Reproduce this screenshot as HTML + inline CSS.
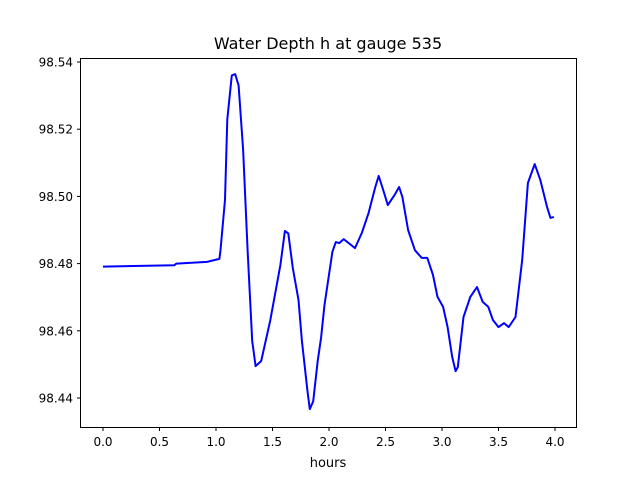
<!DOCTYPE html>
<html><head><meta charset="utf-8"><style>
body{margin:0;background:#fff;}
text{font-family:"DejaVu Sans","Liberation Sans",sans-serif;}
</style></head><body>
<svg id="chart" width="640" height="480" xmlns="http://www.w3.org/2000/svg">
<rect width="640" height="480" fill="#fff"/>
<text x="328" y="49" font-size="16" text-anchor="middle">Water Depth h at gauge 535</text>
<text x="328" y="467" font-size="13" text-anchor="middle">hours</text>
<g id="ticks"></g>
<polyline id="series" fill="none" stroke="#0000ff" stroke-width="2" stroke-linejoin="round"/>
<rect x="80.5" y="58.5" width="496" height="369" fill="none" stroke="#000" stroke-width="1"/>
</svg>
<script>
const hours=[0,0.63,0.65,0.92,1.03,1.04,1.08,1.10,1.14,1.17,1.20,1.24,1.28,1.32,1.35,1.40,1.48,1.57,1.61,1.64,1.68,1.73,1.76,1.81,1.83,1.86,1.90,1.93,1.96,2.03,2.06,2.09,2.13,2.23,2.29,2.35,2.41,2.44,2.48,2.52,2.58,2.62,2.65,2.70,2.76,2.82,2.87,2.92,2.96,3.01,3.05,3.09,3.12,3.14,3.19,3.25,3.31,3.36,3.41,3.45,3.50,3.55,3.59,3.65,3.71,3.76,3.82,3.87,3.93,3.96,3.99];
const depth=[98.4791,98.4795,98.4800,98.4805,98.4814,98.484,98.499,98.523,98.536,98.5364,98.533,98.514,98.484,98.457,98.4495,98.451,98.463,98.4796,98.4897,98.489,98.4787,98.4692,98.457,98.442,98.4367,98.439,98.451,98.458,98.4677,98.4835,98.4864,98.4861,98.4873,98.4846,98.4891,98.4951,98.5028,98.5061,98.5019,98.4974,98.5004,98.5028,98.4998,98.490,98.484,98.4817,98.4817,98.4766,98.4701,98.4671,98.4611,98.4522,98.448,98.4492,98.4641,98.4701,98.473,98.4686,98.4671,98.4632,98.4611,98.4623,98.4611,98.4641,98.4811,98.504,98.5096,98.5049,98.4968,98.4936,98.4939];
const xTicks=[0,0.5,1,1.5,2,2.5,3,3.5,4];
const xTickLabels=["0.0","0.5","1.0","1.5","2.0","2.5","3.0","3.5","4.0"];
const yTicks=[98.44,98.46,98.48,98.50,98.52,98.54];
const yTickLabels=["98.44","98.46","98.48","98.50","98.52","98.54"];
const X=v=>103+v*113;
const Y=v=>398-(v-98.44)*3360;
const NS="http://www.w3.org/2000/svg";
const g=document.getElementById('ticks');
function mk(t,a){const e=document.createElementNS(NS,t);for(const k in a)e.setAttribute(k,a[k]);return e;}
xTicks.forEach((t,i)=>{
 const l=mk('line',{x1:X(t),x2:X(t),y1:427.5,y2:431,stroke:'#000'});
 
 
 g.appendChild(l);
 const tx=mk('text',{x:X(t),y:446,'font-size':12,'text-anchor':'middle'});
 tx.textContent=xTickLabels[i];
 
 
 g.appendChild(tx);
});
yTicks.forEach((t,i)=>{
 const l=mk('line',{x1:77,x2:80.5,y1:Y(t),y2:Y(t),stroke:'#000'});
 
 
 g.appendChild(l);
 const tx=mk('text',{x:73,y:Y(t)+4.5,'font-size':12,'text-anchor':'end'});
 tx.textContent=yTickLabels[i];
 
 
 g.appendChild(tx);
});
document.getElementById('series').setAttribute('points',hours.map((h,i)=>X(h).toFixed(1)+','+Y(depth[i]).toFixed(1)).join(' '));
</script>
</body></html>
